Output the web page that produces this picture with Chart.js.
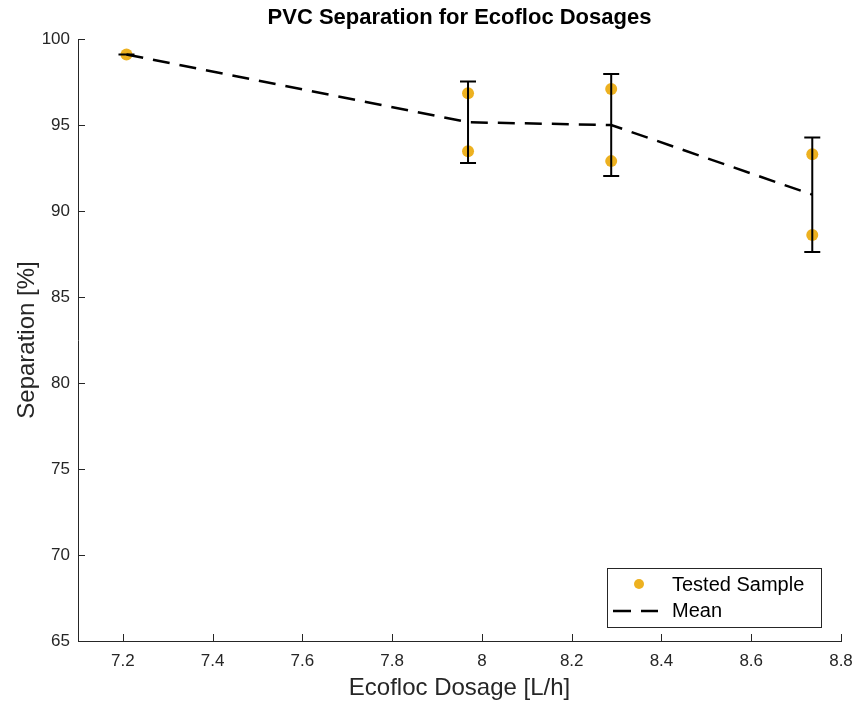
<!DOCTYPE html>
<html>
<head>
<meta charset="utf-8">
<script src="https://cdn.jsdelivr.net/npm/chart.js@4"></script>
<style>
  html, body { margin: 0; padding: 0; background: #fff; }
  #wrap { width: 854px; height: 702px; }
</style>
</head>
<body>
<div id="wrap"><canvas id="chart" width="854" height="702"></canvas></div>
<script>
// ====================
// Data
// ====================

const dosages = [7.208, 7.969, 8.288, 8.736];
const sampleA = [99.1, 96.84, 97.09, 93.3];
const sampleB = [null, 93.47, 92.9, 88.6];
const meanValues = [99.1, 95.16, 95.0, 90.95];
const errValues = [0, 2.37, 2.96, 3.33];

const xTicks = [7.2, 7.4, 7.6, 7.8, 8, 8.2, 8.4, 8.6, 8.8];
const yTicks = [65, 70, 75, 80, 85, 90, 95, 100];

const FONT = "'Liberation Sans', Arial, Helvetica, sans-serif";
const AXIS = "#262626";
const GOLD = "#EDB120";

const samplePoints = [];
dosages.forEach((d, i) => {
  samplePoints.push({ x: d, y: sampleA[i] });
  if (sampleB[i] !== null) samplePoints.push({ x: d, y: sampleB[i] });
});

// ====================
// Plugins
// ====================

const errorBars = {
  id: "errorBars",
  afterDatasetsDraw(chart) {
    const ctx = chart.ctx;
    const xs = chart.scales.x;
    const ys = chart.scales.y;
    ctx.save();
    ctx.strokeStyle = "#000";
    ctx.lineWidth = 2;
    dosages.forEach((d, i) => {
      const px = xs.getPixelForValue(d);
      const top = ys.getPixelForValue(meanValues[i] + errValues[i]);
      const bot = ys.getPixelForValue(meanValues[i] - errValues[i]);
      ctx.beginPath();
      ctx.moveTo(px, top);
      ctx.lineTo(px, bot);
      ctx.moveTo(px - 8, top);
      ctx.lineTo(px + 8, top);
      ctx.moveTo(px - 8, bot);
      ctx.lineTo(px + 8, bot);
      ctx.stroke();
    });
    ctx.restore();
  },
};

const decorations = {
  id: "decorations",
  afterDraw(chart) {
    const ctx = chart.ctx;
    const a = chart.chartArea;
    const xs = chart.scales.x;
    const ys = chart.scales.y;
    ctx.save();

    // inward ticks
    ctx.strokeStyle = AXIS;
    ctx.lineWidth = 1;
    ctx.beginPath();
    xTicks.forEach((v) => {
      const px = Math.round(xs.getPixelForValue(v)) + 0.5;
      ctx.moveTo(px, a.bottom);
      ctx.lineTo(px, a.bottom - 7);
    });
    yTicks.forEach((v) => {
      const py = Math.round(ys.getPixelForValue(v)) + 0.5;
      ctx.moveTo(a.left, py);
      ctx.lineTo(a.left + 7, py);
    });
    ctx.stroke();

    // title
    ctx.fillStyle = "#000";
    ctx.font = "bold 22px " + FONT;
    ctx.textAlign = "center";
    ctx.textBaseline = "middle";
    ctx.fillText("PVC Separation for Ecofloc Dosages", (a.left + a.right) / 2, 18);

    // axis titles
    ctx.fillStyle = AXIS;
    ctx.font = "24px " + FONT;
    ctx.fillText("Ecofloc Dosage [L/h]", (a.left + a.right) / 2, 688);
    ctx.translate(27, (a.top + a.bottom) / 2);
    ctx.rotate(-Math.PI / 2);
    ctx.fillText("Separation [%]", 0, 0);
    ctx.setTransform(1, 0, 0, 1, 0, 0);

    // legend
    ctx.fillStyle = "#fff";
    ctx.fillRect(607, 568, 214, 59);
    ctx.strokeStyle = AXIS;
    ctx.lineWidth = 1;
    ctx.strokeRect(607.5, 568.5, 214, 59);
    ctx.fillStyle = GOLD;
    ctx.beginPath();
    ctx.arc(639, 584, 5, 0, Math.PI * 2);
    ctx.fill();
    ctx.strokeStyle = "#000";
    ctx.lineWidth = 2.5;
    ctx.beginPath();
    ctx.moveTo(613, 611);
    ctx.lineTo(631, 611);
    ctx.moveTo(641, 611);
    ctx.lineTo(658, 611);
    ctx.stroke();
    ctx.fillStyle = "#000";
    ctx.font = "20px " + FONT;
    ctx.textAlign = "left";
    ctx.fillText("Tested Sample", 672, 585);
    ctx.fillText("Mean", 672, 611);

    ctx.restore();
  },
};

// ====================
// Chart
// ====================

new Chart(document.getElementById("chart"), {
  type: "scatter",

  data: {
    datasets: [
      {
        label: "Tested Sample",
        data: samplePoints,
        backgroundColor: GOLD,
        borderColor: GOLD,
        pointRadius: 6,
        pointBorderWidth: 0,
        order: 2,
      },
      {
        label: "Mean",
        type: "line",
        data: dosages.map((d, i) => ({ x: d, y: meanValues[i] })),
        borderColor: "#000",
        borderWidth: 2.5,
        borderDash: [17, 10],
        pointRadius: 0,
        fill: false,
        tension: 0,
        order: 1,
      },
    ],
  },

  options: {
    responsive: false,
    animation: false,
    layout: {
      padding: { top: 39, right: 13, left: 0, bottom: 0 },
    },

    plugins: {
      legend: { display: false },
      tooltip: { enabled: false },
    },

    scales: {
      x: {
        type: "linear",
        min: 7.1,
        max: 8.8,
        afterBuildTicks: (s) => { s.ticks = xTicks.map((v) => ({ value: v })); },
        afterFit: (s) => { s.height = 61; s.paddingLeft = 0; s.paddingRight = 0; },
        grid: { display: false, drawTicks: false },
        border: { display: true, color: AXIS, width: 1 },
        ticks: {
          padding: 10,
          color: AXIS,
          font: { family: FONT, size: 17 },
          maxRotation: 0,
          callback: (v) => String(v),
        },
      },
      y: {
        type: "linear",
        min: 65,
        max: 100,
        afterBuildTicks: (s) => { s.ticks = yTicks.map((v) => ({ value: v })); },
        afterFit: (s) => { s.width = 78; s.paddingTop = 0; s.paddingBottom = 0; },
        grid: { display: false, drawTicks: false },
        border: { display: true, color: AXIS, width: 1 },
        ticks: {
          padding: 8,
          color: AXIS,
          font: { family: FONT, size: 17 },
        },
      },
    },
  },

  plugins: [errorBars, decorations],
});
</script>
</body>
</html>
